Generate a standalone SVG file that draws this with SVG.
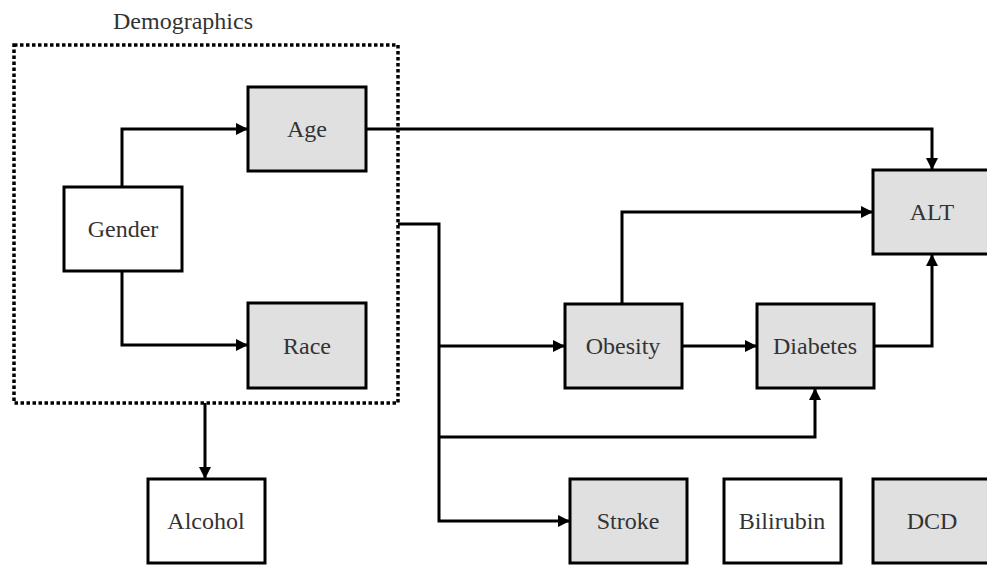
<svg xmlns="http://www.w3.org/2000/svg" width="987" height="566" viewBox="0 0 987 566">
<style>
.box{stroke:#000;stroke-width:3}
.g{fill:#e0e0e0}
.w{fill:#fff}
text{font-family:'Liberation Serif','Times New Roman',serif;font-size:24px;fill:#333;text-anchor:middle}
.c{fill:none;stroke:#000;stroke-width:3;marker-end:url(#ah)}
</style>
<defs>
<marker id="ah" markerUnits="userSpaceOnUse" markerWidth="12" markerHeight="12" refX="12" refY="6" orient="auto">
<path d="M0,0 L12,6 L0,12 z" fill="#000"/>
</marker>
</defs>
<rect width="987" height="566" fill="#fff"/>
<g id="demographics">
<rect x="14" y="45" width="384" height="358" fill="none" stroke="#000" stroke-width="3.5" stroke-dasharray="3.5 2.5"/>
<text x="183" y="29">Demographics</text>
</g>
<g id="connectors">
<path class="c" d="M122,187 V129 H248"/>
<path class="c" d="M122,271 V345 H248"/>
<path class="c" d="M366,129 H932 V170"/>
<path class="c" d="M398,224 H439 V521 H570"/>
<path class="c" d="M439,346 H565"/>
<path class="c" d="M439,437 H815 V388"/>
<path class="c" d="M622,304 V212 H873"/>
<path class="c" d="M682,346 H757"/>
<path class="c" d="M874,346 H932 V254"/>
<path class="c" d="M205,403 V479"/>
</g>
<g id="gender"><rect class="box w" x="64" y="187" width="118" height="84"/><text x="123" y="237">Gender</text></g>
<g id="age"><rect class="box g" x="248" y="87" width="118" height="84"/><text x="307" y="137">Age</text></g>
<g id="race"><rect class="box g" x="248" y="303" width="118" height="85"/><text x="307" y="354">Race</text></g>
<g id="alt"><rect class="box g" x="873" y="170" width="118" height="84"/><text x="932" y="220">ALT</text></g>
<g id="obesity"><rect class="box g" x="565" y="304" width="117" height="84"/><text x="623" y="354">Obesity</text></g>
<g id="diabetes"><rect class="box g" x="757" y="304" width="117" height="84"/><text x="815" y="354">Diabetes</text></g>
<g id="alcohol"><rect class="box w" x="148" y="479" width="117" height="84"/><text x="206" y="529">Alcohol</text></g>
<g id="stroke"><rect class="box g" x="570" y="479" width="117" height="84"/><text x="628" y="529">Stroke</text></g>
<g id="bilirubin"><rect class="box w" x="724" y="479" width="117" height="84"/><text x="782" y="529">Bilirubin</text></g>
<g id="dcd"><rect class="box g" x="873" y="479" width="118" height="84"/><text x="932" y="529">DCD</text></g>
</svg>
